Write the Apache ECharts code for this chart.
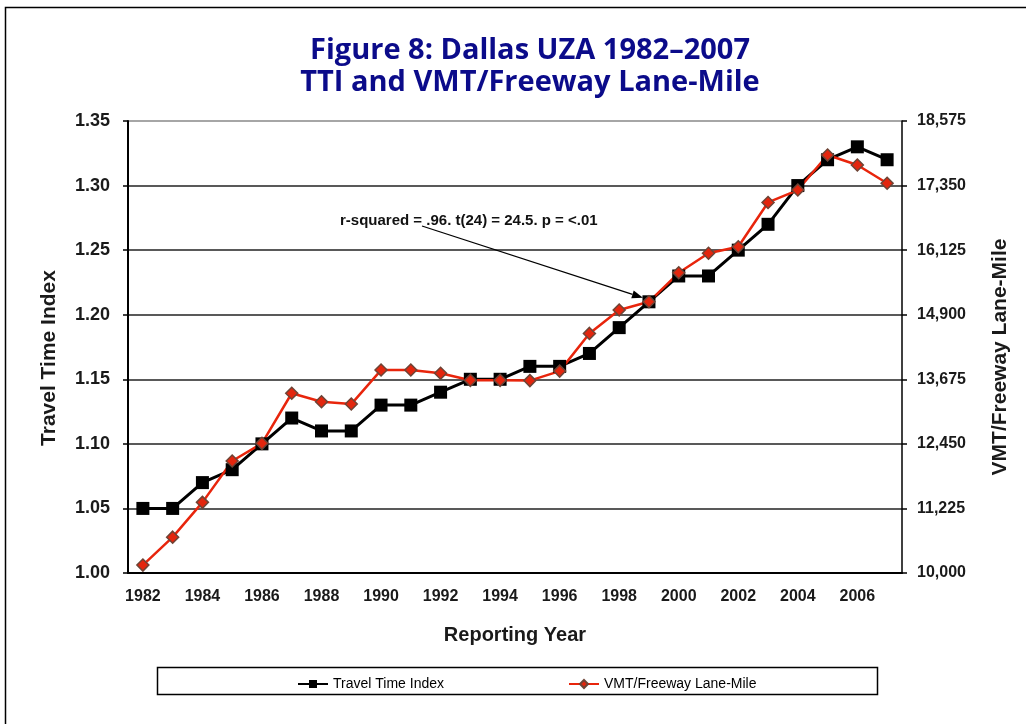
<!DOCTYPE html>
<html lang="en" style="height: 100%">
<head>
    <meta charset="UTF-8">
    <title>Dallas UZA TTI and VMT</title>
    <script type="text/javascript" src="https://cdn.jsdelivr.net/npm/echarts@6/dist/echarts.min.js"></script>
</head>
<body style="height: 100%;margin: 0;background:#fff">

<div id="contar" style="width:1026px;height:724px"></div>

<script type="text/javascript">
    var years = ['1982','1983','1984','1985','1986','1987','1988','1989','1990','1991','1992','1993','1994',
        '1995','1996','1997','1998','1999','2000','2001','2002','2003','2004','2005','2006','2007'];
    var ttiData = [1.05,1.05,1.07,1.08,1.10,1.12,1.11,1.11,1.13,1.13,1.14,1.15,1.15,
        1.16,1.16,1.17,1.19,1.21,1.23,1.23,1.25,1.27,1.30,1.32,1.33,1.32];
    var vmtData = [10150,10680,11340,12125,12460,13410,13250,13205,13850,13850,13790,13655,13655,
        13650,13830,14545,14990,15145,15695,16065,16190,17030,17265,17930,17740,17395];
    var annotation = 'r-squared = .96. t(24) = 24.5. p = <.01';

    var chart = echarts.init(document.getElementById('contar'));

    function commas(v) {
        return Math.round(v).toString().replace(/\B(?=(\d{3})+(?!\d))/g, ',');
    }

    var labelFont = {fontFamily:'Liberation Sans, Arial', fontWeight:'bold', fontSize:16, color:'#1a1a1a'};

    option = {
        animation:false,
        title:{
            text:'Figure 8: Dallas UZA 1982\u20132007\nTTI and VMT/Freeway Lane-Mile',
            left:525,
            top:30,
            textAlign:'center',
            textStyle:{
                fontFamily:'Open Sans',
                fontWeight:'bold',
                fontSize:29,
                lineHeight:32,
                color:'#0b0b8a'
            }
        },
        legend:{
            left:292,
            top:672,
            itemWidth:30,
            itemHeight:10,
            itemGap:124,
            textStyle:{fontFamily:'Liberation Sans, Arial', fontSize:14, color:'#000'},
            data:['Travel Time Index','VMT/Freeway Lane-Mile']
        },
        grid:{left:128, right:124, top:121, bottom:151},
        xAxis:{
            type:'category',
            data:years,
            boundaryGap:true,
            name:'Reporting Year',
            nameLocation:'middle',
            nameGap:52,
            nameTextStyle:{fontFamily:'Liberation Sans, Arial', fontWeight:'bold', fontSize:20, color:'#1a1a1a'},
            axisLine:{lineStyle:{color:'#000', width:2}},
            axisTick:{interval:0, length:5, lineStyle:{color:'#000', width:1.5}},
            axisLabel:Object.assign({interval:1, margin:16}, labelFont),
            splitLine:{show:false}
        },
        yAxis:[
            {
                type:'value',
                min:1.0,
                max:1.35,
                interval:0.05,
                name:'Travel Time Index',
                nameLocation:'middle',
                nameRotate:90,
                nameGap:68,
                nameTextStyle:{fontFamily:'Liberation Sans, Arial', fontWeight:'bold', fontSize:21, color:'#1a1a1a',
                    padding:[0, 22, 0, 0]},
                axisLine:{show:true, lineStyle:{color:'#000', width:2}},
                axisTick:{show:true, length:5, lineStyle:{color:'#000', width:1.5}},
                axisLabel:{margin:18, fontSize:18, fontFamily:'Liberation Sans, Arial', fontWeight:'bold', color:'#1a1a1a',
                    formatter:function (v) { return v.toFixed(2); }},
                splitLine:{show:true, lineStyle:{color:['#222','#222','#222','#222','#222','#222','#222','#888'], width:1.5}}
            },
            {
                type:'value',
                min:10000,
                max:18575,
                alignTicks:true,
                name:'VMT/Freeway Lane-Mile',
                nameLocation:'middle',
                nameRotate:90,
                nameGap:88,
                nameTextStyle:{fontFamily:'Liberation Sans, Arial', fontWeight:'bold', fontSize:21, color:'#1a1a1a',
                    padding:[0, 20, 0, 0]},
                axisLine:{show:true, lineStyle:{color:'#000', width:1.5}},
                axisTick:{show:true, length:5, lineStyle:{color:'#000', width:1.5}},
                axisLabel:Object.assign({margin:15, formatter:commas}, labelFont),
                splitLine:{show:false}
            }
        ],
        series:[
            {
                name:'Travel Time Index',
                type:'line',
                yAxisIndex:0,
                data:ttiData,
                symbol:'rect',
                symbolSize:13,
                itemStyle:{color:'#000'},
                lineStyle:{color:'#000', width:3}
            },
            {
                name:'VMT/Freeway Lane-Mile',
                type:'line',
                yAxisIndex:1,
                data:vmtData,
                symbol:'diamond',
                symbolSize:12,
                itemStyle:{color:'#e3260e', borderColor:'#6e4436', borderWidth:1.5},
                lineStyle:{color:'#e8250c', width:2.5}
            }
        ]
    };

    chart.setOption(option);

    // frame, legend box, note and arrow to the 1999 point
    var tip = chart.convertToPixel({xAxisIndex:0, yAxisIndex:0}, ['1999', ttiData[17]]);
    var x0 = 422, y0 = 226, x1 = tip[0] - 6, y1 = tip[1] - 4;
    var ang = Math.atan2(y1 - y0, x1 - x0), hl = 11, hw = 4;
    var bx = x1 - hl * Math.cos(ang), by = y1 - hl * Math.sin(ang);
    chart.setOption({
        graphic:[
            {
                id:'frame',
                type:'rect',
                shape:{x:5.5, y:7.5, width:1100, height:800},
                style:{fill:'none', stroke:'#000', lineWidth:1.5},
                silent:true
            },
            {
                id:'legendBox',
                type:'rect',
                shape:{x:157.5, y:667.5, width:720, height:27},
                style:{fill:'none', stroke:'#000', lineWidth:1.5},
                silent:true
            },
            {
                id:'note',
                type:'text',
                x:340,
                y:213,
                style:{text:annotation, font:'bold 15px "Liberation Sans", Arial', fill:'#111'},
                silent:true
            },
            {
                id:'arrowLine',
                type:'line',
                shape:{x1:x0, y1:y0, x2:bx, y2:by},
                style:{stroke:'#000', lineWidth:1.3},
                z:20
            },
            {
                id:'arrowHead',
                type:'polygon',
                shape:{points:[[x1, y1],
                    [bx + hw * Math.sin(ang), by - hw * Math.cos(ang)],
                    [bx - hw * Math.sin(ang), by + hw * Math.cos(ang)]]},
                style:{fill:'#000'},
                z:20
            }
        ]
    });
</script>

</body>
</html>
